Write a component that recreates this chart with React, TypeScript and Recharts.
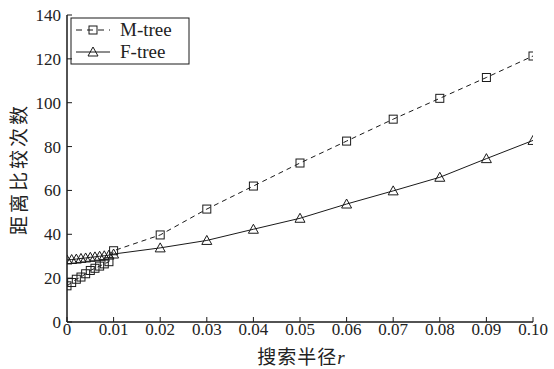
import React from 'react';
import { LineChart, Line, XAxis, YAxis } from 'recharts';

// search radius r
const radius = [0, 0.001, 0.002, 0.003, 0.004, 0.005, 0.006, 0.007, 0.008, 0.009, 0.01, 0.02, 0.03, 0.04, 0.05, 0.06, 0.07, 0.08, 0.09, 0.1];
// distance computations
const mTree = [16.5, 18, 19.5, 20.5, 22, 23.5, 24.5, 25.5, 26.5, 27.5, 32.5, 39.7, 51.5, 62, 72.5, 82.5, 92.5, 102, 111.5, 121.3];
const fTree = [28.3, 28.5, 28.7, 29, 29.2, 29.5, 29.7, 30, 30.2, 30.5, 31, 33.8, 37.2, 42.3, 47.3, 53.8, 59.8, 66, 74.5, 82.8];

const xTicks = [0, 0.01, 0.02, 0.03, 0.04, 0.05, 0.06, 0.07, 0.08, 0.09, 0.1];
const yTicks = [0, 20, 40, 60, 80, 100, 120, 140];

const data = radius.map((r, i) => ({ r, m: mTree[i], f: fTree[i] }));

const INK = '#1a1a1a';
const SERIF = 'Liberation Serif';
const CJK = "'Noto Sans CJK SC', sans-serif";

const fmtX = (v: number) => (v === 0 ? '0' : v.toFixed(2));

const Square = (p: any) => {
  const { cx, cy } = p;
  if (cx == null || cy == null) return <g />;
  return <rect x={cx - 4} y={cy - 4} width={8} height={8} fill="none" stroke={INK} strokeWidth={1} />;
};

const Triangle = (p: any) => {
  const { cx, cy } = p;
  if (cx == null || cy == null) return <g />;
  return <path d={`M${cx},${cy - 5}L${cx + 5},${cy + 4}L${cx - 5},${cy + 4}Z`} fill="none" stroke={INK} strokeWidth={1} />;
};

const NoTick = () => <g />;

// tick label drawn as plain svg text so the serif face is kept
const SerifTick = (p: any) => {
  const { x, y, payload, textAnchor, orientation } = p;
  const label = orientation === 'bottom' ? fmtX(payload.value) : String(payload.value);
  const dy = orientation === 'bottom' ? 12 : 6;
  return (
    <text x={x} y={y + dy} textAnchor={textAnchor} fontSize={17} fontFamily={SERIF} fill="#222">
      {label}
    </text>
  );
};

export default function App() {
  return (
    <div style={{ position: 'absolute', left: 0, top: 0, width: 554, height: 369, background: '#fff' }}>
      <LineChart width={554} height={369} data={data} margin={{ top: 15, right: 21, left: 0, bottom: 0 }}>
        <XAxis
          dataKey="r"
          type="number"
          domain={[0, 0.1]}
          ticks={xTicks}
          allowDataOverflow
          height={47}
          tickSize={-5}
          tickMargin={6}
          axisLine={{ stroke: INK, strokeWidth: 1.5 }}
          tickLine={{ stroke: INK }}
          tick={SerifTick}
        />
        <XAxis
          xAxisId="top"
          dataKey="r"
          type="number"
          orientation="top"
          domain={[0, 0.1]}
          ticks={xTicks}
          allowDataOverflow
          height={0}
          tickSize={-5}
          axisLine={{ stroke: INK, strokeWidth: 1.5 }}
          tickLine={{ stroke: INK }}
          tick={NoTick}
        />
        <YAxis
          type="number"
          domain={[0, 140]}
          ticks={yTicks}
          allowDataOverflow
          width={67}
          tickSize={-5}
          tickMargin={11}
          axisLine={{ stroke: INK, strokeWidth: 1.5 }}
          tickLine={{ stroke: INK }}
          tick={SerifTick}
        />
        <YAxis
          yAxisId="right"
          type="number"
          orientation="right"
          domain={[0, 140]}
          ticks={yTicks}
          allowDataOverflow
          width={0}
          tickSize={-5}
          axisLine={{ stroke: INK, strokeWidth: 1.5 }}
          tickLine={{ stroke: INK }}
          tick={NoTick}
        />
        <Line
          dataKey="m"
          name="M-tree"
          stroke={INK}
          strokeWidth={1}
          strokeDasharray="5 4"
          dot={Square}
          activeDot={false}
          isAnimationActive={false}
        />
        <Line
          dataKey="f"
          name="F-tree"
          stroke={INK}
          strokeWidth={1}
          dot={Triangle}
          activeDot={false}
          isAnimationActive={false}
        />

        {/* legend box */}
        <g>
          <rect x={71} y={18} width={118} height={46} fill="#fff" stroke={INK} strokeWidth={1} />
          <line x1={76} y1={30} x2={110} y2={30} stroke={INK} strokeDasharray="6 5" />
          <Square cx={93} cy={30} />
          <text x={120} y={36} fontSize={19} fontFamily={SERIF} fill="#222">M-tree</text>
          <line x1={76} y1={52} x2={110} y2={52} stroke={INK} />
          <Triangle cx={93} cy={52} />
          <text x={120} y={58} fontSize={19} fontFamily={SERIF} fill="#222">F-tree</text>
        </g>

        {/* axis titles */}
        <text x={301} y={364} textAnchor="middle" fontSize={19} fill="#222">
          <tspan fontFamily={CJK} style={{ letterSpacing: 1 }}>搜索半径</tspan>
          <tspan fontFamily={SERIF} fontStyle="italic">r</tspan>
        </text>
        <text x={0} y={0} transform="translate(26,169) rotate(-90)" textAnchor="middle" fontSize={19} fontFamily={CJK} style={{ letterSpacing: 3 }} fill="#222">
          距离比较次数
        </text>
      </LineChart>
    </div>
  );
}
